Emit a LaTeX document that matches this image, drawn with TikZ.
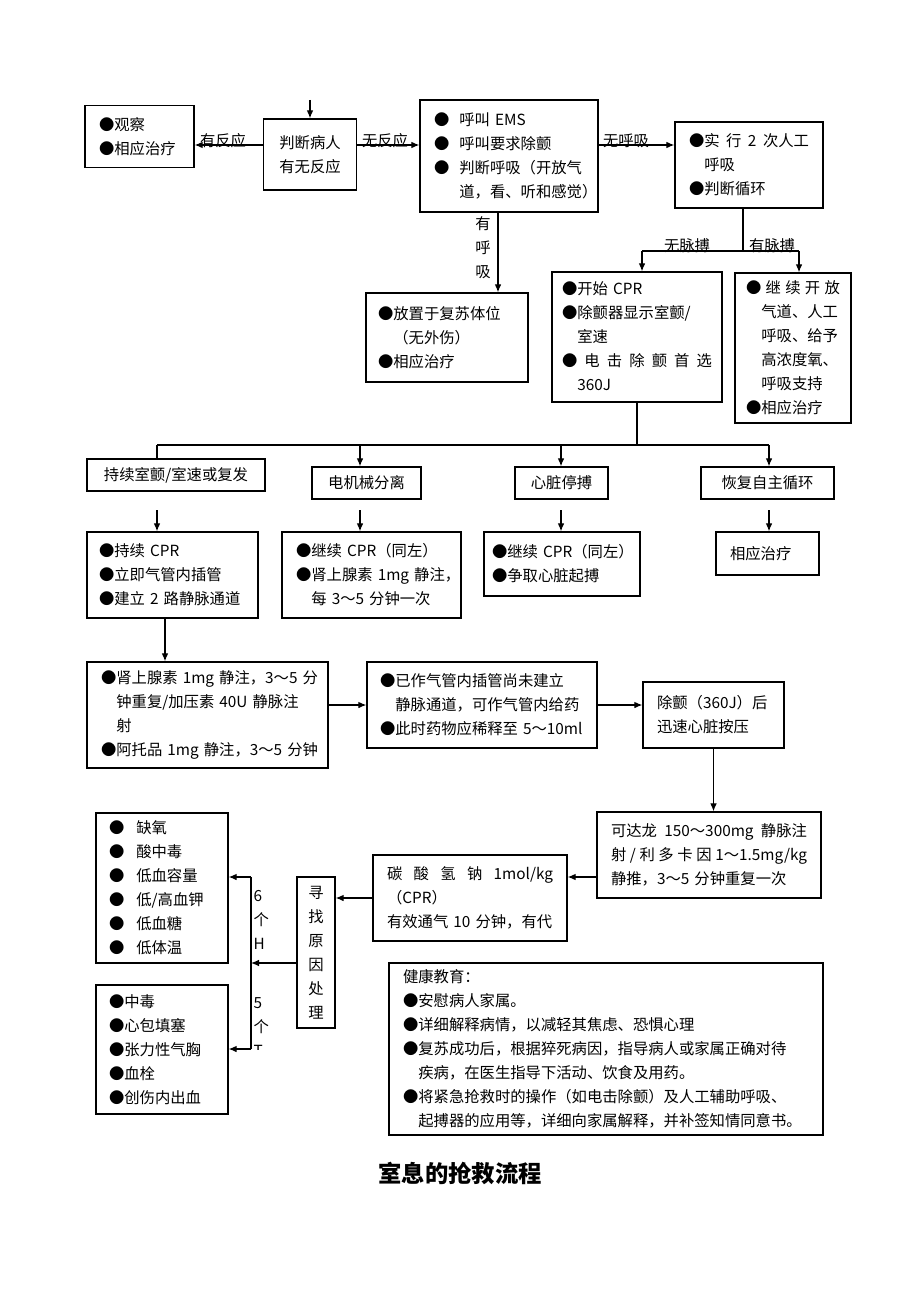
\documentclass[tikz,border=0pt]{standalone}
\usepackage{fontspec}
\setmainfont{Noto Sans CJK SC}
\usetikzlibrary{arrows.meta}
\tikzset{
  box/.style={draw, line width=1pt, inner ysep=0pt, align=left, font=\fontsize{11.5pt}{18pt}\selectfont},
  tag/.style={inner sep=0pt, align=center, font=\fontsize{11.5pt}{18pt}\selectfont},
  >={Latex[length=6pt,width=5pt]}
}
\begin{document}
\begin{tikzpicture}[x=0.75pt,y=0.75pt,yscale=-1,xscale=1,line width=0.9pt]
\useasboundingbox (0,0) rectangle (920,1302);

%Shape: Rectangle
\node[box, text width=60.75pt, inner xsep=10.5pt, minimum height=46.5pt] (obs) at (139.5,136.5) {●观察\\●相应治疗};
%Shape: Rectangle
\node[box, align=center, text width=57.4pt, inner xsep=6pt, minimum height=53.25pt] (judge) at (310,154.5) {判断病人\\有无反应};
%Shape: Rectangle
\node[box, text width=112.5pt, inner xsep=10.5pt, minimum height=84pt] (ems) at (509,156) {●\kern7.5pt 呼叫~EMS\\●\kern7.5pt 呼叫要求除颤\\●\kern7.5pt 判断呼吸（开放气\\\phantom{●}\kern7.5pt 道，看、听和感觉）};
%Shape: Rectangle
\node[box, text width=90pt, inner xsep=10.5pt, minimum height=64.5pt] (resp) at (749,165) {●实\hfill 行\hfill 2\hfill 次人工\\\phantom{●}呼吸\\●判断循环};
%Shape: Rectangle
\node[box, text width=103.5pt, inner xsep=9pt, minimum height=66.75pt] (recov) at (447,337.5) {●放置于复苏体位\\\phantom{●}（无外伤）\\●相应治疗};
%Shape: Rectangle
\node[box, text width=112.5pt, inner xsep=7.5pt, minimum height=97.5pt] (cpr) at (637,337) {●开始~CPR\\●除颤器显示室颤/\\\phantom{●}室速\\●\hfill 电\hfill 击\hfill 除\hfill 颤\hfill 首\hfill 选\\\phantom{●}360J};
%Shape: Rectangle
\node[box, text width=70.5pt, inner xsep=8.25pt, minimum height=112.5pt] (pulse) at (793,348) {●\hfill 继\hfill 续\hfill 开\hfill 放\\\phantom{●}气道、人工\\\phantom{●}呼吸、给予\\\phantom{●}高浓度氧、\\\phantom{●}呼吸支持\\●相应治疗};

%Shape: Rectangle
\node[box, align=center, minimum width=133.5pt, minimum height=24pt] (f1) at (176,475) {持续室颤/室速或复发};
\node[box, align=center, minimum width=81.75pt, minimum height=24pt] (f2) at (366.5,483) {电机械分离};
\node[box, align=center, minimum width=69.75pt, minimum height=24pt] (f3) at (561.5,483) {心脏停搏};
\node[box, align=center, minimum width=99.75pt, minimum height=24pt] (f4) at (767.5,483) {恢复自主循环};

%Shape: Rectangle
\node[box, text width=110.25pt, inner xsep=9pt, minimum height=64.5pt] (c1) at (172.5,575) {●持续~CPR\\●立即气管内插管\\●建立~2~路静脉通道};
\node[box, text width=113.25pt, inner xsep=10.5pt, minimum height=64.5pt] (c2) at (371.5,575) {●继续~CPR（同左）\\●肾上腺素~1mg~静注，\\\phantom{●}每~3～5~分钟一次};
\node[box, text width=105pt, inner xsep=6pt, minimum height=48pt] (c3) at (562,564) {●继续~CPR（同左）\\●争取心脏起搏};
\node[box, text width=56.25pt, inner xsep=10.5pt, minimum height=32.25pt] (c4) at (767.5,553.5) {相应治疗};

%Shape: Rectangle
\node[box, text width=159.75pt, inner xsep=10.5pt, minimum height=79.5pt] (d1) at (207.5,715) {●肾上腺素~1mg~静注，3～5~分\\\phantom{●}钟重复/加压素~40U~静脉注\\\phantom{●}射\\●阿托品~1mg~静注，3～5~分钟};
\node[box, text width=153pt, inner xsep=9.75pt, minimum height=64.5pt] (d2) at (482,705) {●已作气管内插管尚未建立\\\phantom{●}静脉通道，可作气管内给药\\●此时药物应稀释至~5～10ml};
\node[box, text width=84.75pt, inner xsep=10.5pt, minimum height=49.5pt] (d3) at (713.5,715) {除颤（360J）后\\迅速心脏按压};

%Shape: Rectangle
\node[box, text width=147pt, inner xsep=10.5pt, minimum height=64.5pt] (amio) at (709,855) {可达龙\hfill 150～300mg\hfill 静脉注\\射\hfill /\hfill 利\hfill 多\hfill 卡\hfill 因\hfill 1～1.5mg/kg\\静推，3～5~分钟重复一次};
\node[box, text width=124.5pt, inner xsep=10.5pt, minimum height=64.5pt] (nahco) at (470,898) {碳\hfill 酸\hfill 氢\hfill 钠\hfill 1mol/kg\\（CPR）\\有效通气~10~分钟，有代};
\node[box, align=center, inner sep=0pt, minimum width=28.5pt, minimum height=113.25pt] (seek) at (316,952.5) {寻\\找\\原\\因\\处\\理};

%Shape: Rectangle
\node[box, text width=79.5pt, inner xsep=9.75pt, minimum height=112.5pt] (hbox) at (162,888) {●\kern9pt 缺氧\\●\kern9pt 酸中毒\\●\kern9pt 低血容量\\●\kern9pt 低/高血钾\\●\kern9pt 低血糖\\●\kern9pt 低体温};
\node[box, text width=79.5pt, inner xsep=9.75pt, minimum height=96.75pt] (tbox) at (162,1049.5) {●中毒\\●心包填塞\\●张力性气胸\\●血栓\\●创伤内出血};
\node[box, text width=304.5pt, inner xsep=10.5pt, minimum height=129pt] (health) at (606,1049) {健康教育：\\●安慰病人家属。\\●详细解释病情，以减轻其焦虑、恐惧心理\\●复苏成功后，根据猝死病因，指导病人或家属正确对待\\\phantom{●}疾病，在医生指导下活动、饮食及用药。\\●将紧急抢救时的操作（如电击除颤）及人工辅助呼吸、\\\phantom{●}起搏器的应用等，详细向家属解释，并补签知情同意书。};

%Straight Lines
\coordinate (top) at (310,100);
\draw[->] (top) -- (judge.north);
\coordinate (row) at (0,145);
\draw[->] (judge.west |- row) -- (obs.east |- row);
\draw[->] (judge.east |- row) -- (ems.west |- row);
\draw[->] (ems.east |- row) -- (resp.west |- row);
\coordinate (br) at (498,0);
\draw[->] (ems.south -| br) -- (recov.north -| br);

%Straight Lines
\coordinate (pul) at (743,251);
\coordinate (pl) at (642,251);
\coordinate (pr) at (799,251);
\draw (resp.south -| pul) -- (pul);
\draw (pl) -- (pr);
\draw[->] (pl) -- (pl |- cpr.north);
\draw[->] (pr) -- (pr |- pulse.north);

%Straight Lines
\coordinate (hub) at (637,445);
\coordinate (q1) at (157,445);
\coordinate (q2) at (360,445);
\coordinate (q3) at (561,445);
\coordinate (q4) at (769,445);
\draw (cpr.south) -- (hub);
\draw (q1) -- (q4);
\draw (q1) -- (q1 |- f1.north);
\draw[->] (q2) -- (q2 |- f2.north);
\draw[->] (q3) -- (q3 |- f3.north);
\draw[->] (q4) -- (q4 |- f4.north);

%Straight Lines
\coordinate (s1) at (157,510);
\coordinate (s2) at (360,510);
\coordinate (s3) at (561,510);
\coordinate (s4) at (769,510);
\draw[->] (s1) -- (s1 |- c1.north);
\draw[->] (s2) -- (s2 |- c2.north);
\draw[->] (s3) -- (s3 |- c3.north);
\draw[->] (s4) -- (s4 |- c4.north);

%Straight Lines
\coordinate (dn) at (165,0);
\draw[->] (c1.south -| dn) -- (d1.north -| dn);
\draw[->] (d1.east |- d2.west) -- (d2.west);
\draw[->] (d2.east) -- (d2.east -| d3.west);
\draw[->] (d3.south) -- (d3.south |- amio.north);
\coordinate (lv) at (0,877);
\draw[->] (amio.west |- lv) -- (nahco.east |- lv);
\draw[->] (nahco.west) -- (nahco.west -| seek.east);

%Straight Lines
\coordinate (vb) at (251,963);
\coordinate (vt) at (251,877);
\coordinate (vbt) at (251,1049);
\draw[->] (seek.west |- vb) -- (vb);
\draw (vt) -- (vbt);
\draw[->] (vt) -- (vt -| hbox.east);
\draw[->] (vbt) -- (vbt -| tbox.east);

% Text Node
\node[tag] (t1) at (223,141) {有反应};
% Text Node
\node[tag] (t2) at (385,141) {无反应};
% Text Node
\node[tag] (t3) at (626,141) {无呼吸};
% Text Node
\node[tag] (t4) at (483,248) {有\\呼\\吸};
% Text Node
\node[tag] (t5) at (687,246) {无脉搏};
% Text Node
\node[tag] (t6) at (772,246) {有脉搏};
% Text Node
\node[tag, anchor=west, align=left] (six) at (253,920) {6\\个\\H};
\begin{scope}
\clip (240,990) rectangle (280,1049);
% Text Node
\node[tag, anchor=west, align=left] (five) at (253,1027) {5\\个\\T};
\end{scope}
% Text Node
\node[font=\bfseries\fontsize{17.5pt}{21pt}\selectfont] (title) at (460,1173) {室息的抢救流程};

\end{tikzpicture}
\end{document}
